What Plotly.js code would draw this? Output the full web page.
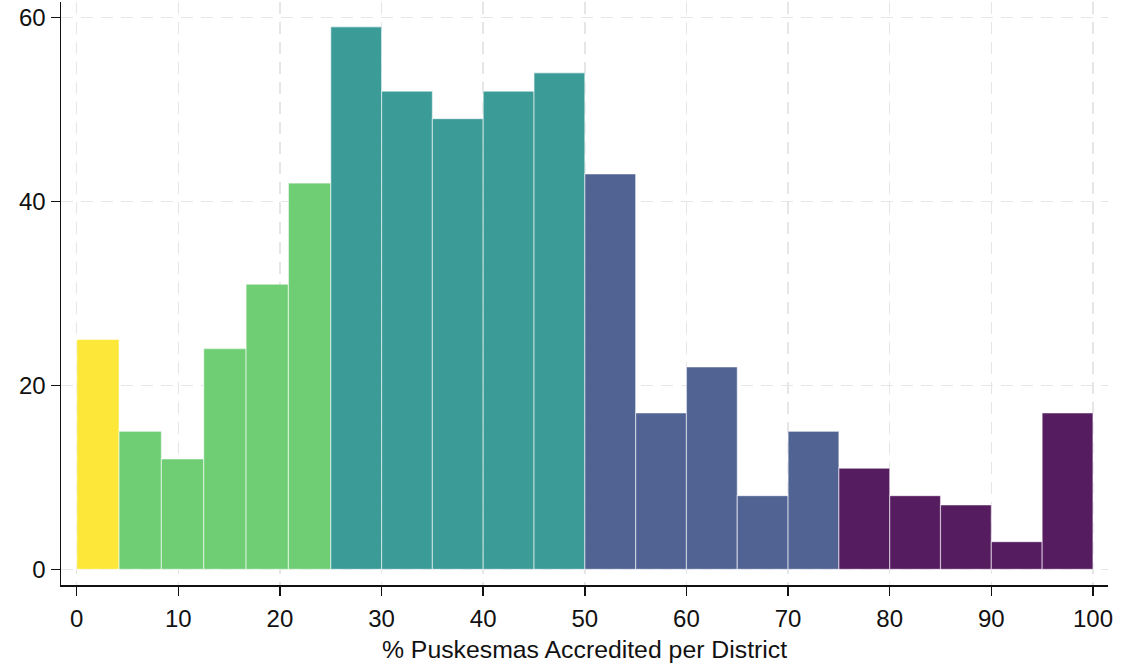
<!DOCTYPE html>
<html>
<head>
<meta charset="utf-8">
<script src="https://cdn.plot.ly/plotly-3.0.1.min.js"></script>
<style>html,body{margin:0;padding:0;background:#fff;}#chart{width:1138px;height:663px;}</style>
</head>
<body>
<div id="chart"></div>
<script>
// Bin edges (% Puskesmas accredited per district)
const binLeft  = [0, 4.1667, 8.3333, 12.5, 16.6667, 20.8333, 25, 30, 35, 40, 45, 50, 55, 60, 65, 70, 75, 80, 85, 90, 95];
const binRight = [4.1667, 8.3333, 12.5, 16.6667, 20.8333, 25, 30, 35, 40, 45, 50, 55, 60, 65, 70, 75, 80, 85, 90, 95, 100];
// Number of districts per bin
const counts   = [25, 15, 12, 24, 31, 42, 59, 52, 49, 52, 54, 43, 17, 22, 8, 15, 11, 8, 7, 3, 17];
// Colour group of each bin
const groups   = [0, 1, 1, 1, 1, 1, 2, 2, 2, 2, 2, 3, 3, 3, 3, 3, 4, 4, 4, 4, 4];
const groupColors = ['#fde83a', '#6fce74', '#3a9b97', '#506393', '#561c60'];
const xTicks = [0, 10, 20, 30, 40, 50, 60, 70, 80, 90, 100];
const yTicks = [0, 20, 40, 60];
const xTitle = '% Puskesmas Accredited per District';

const centers = binLeft.map((l, i) => (l + binRight[i]) / 2);
const widths = binLeft.map((l, i) => binRight[i] - l);
const colors = groups.map(g => groupColors[g]);

const trace = {
  type: 'bar',
  x: centers,
  y: counts,
  width: widths,
  marker: {color: colors, line: {color: 'rgba(255,255,255,0.5)', width: 1.2}},
  hoverinfo: 'x+y'
};

const font = {family: '"Liberation Sans", Arial, sans-serif', size: 24, color: '#111'};
const titleFont = {family: '"Liberation Sans", Arial, sans-serif', size: 24.8, color: '#111'};

const layout = {
  width: 1138, height: 663,
  margin: {l: 61, r: 30, t: 2, b: 78},
  paper_bgcolor: '#fff', plot_bgcolor: '#fff',
  showlegend: false,
  bargap: 0,
  font: font,
  xaxis: {
    range: [-1.545, 101.48],
    tickvals: xTicks, ticktext: xTicks.map(String),
    ticks: 'outside', ticklen: 9, tickwidth: 1.5, tickcolor: '#111',
    ticklabelstandoff: 3,
    showline: true, linecolor: '#111', linewidth: 1.5,
    showgrid: true, gridcolor: '#e6e6e6', gridwidth: 1.5, griddash: '12px,8px',
    zeroline: false,
    tickfont: font,
    title: {text: xTitle, font: titleFont, standoff: 11}
  },
  yaxis: {
    range: [-1.71, 61.7],
    tickvals: yTicks, ticktext: yTicks.map(String),
    ticks: 'outside', ticklen: 9, tickwidth: 1.5, tickcolor: '#111',
    showline: true, linecolor: '#111', linewidth: 1.5,
    showgrid: true, gridcolor: '#e6e6e6', gridwidth: 1.5, griddash: '12px,8px',
    zeroline: false,
    tickfont: font
  }
};

Plotly.newPlot('chart', [trace], layout, {displayModeBar: false, staticPlot: true});
</script>
</body>
</html>
